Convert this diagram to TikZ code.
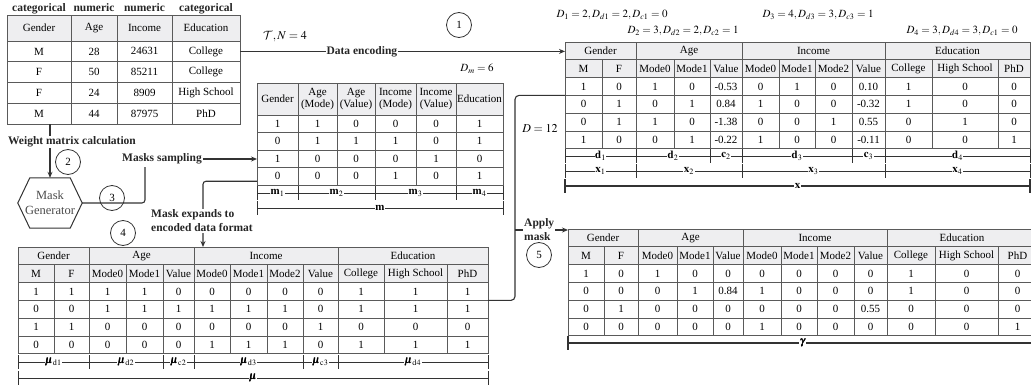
\documentclass[tikz,border=0pt]{standalone}
\usepackage{amsmath}
\usepackage{mathptmx}
\DeclareMathAlphabet{\mathcal}{OMS}{cmsy}{m}{n}
\usepackage[no-math]{fontspec}
\setmainfont{Liberation Serif}
\usepackage{tikz}
\usepackage{xcolor}
\usetikzlibrary{arrows.meta,positioning}

\definecolor{tabline}{RGB}{90,90,90}
\definecolor{headfill}{RGB}{238,238,240}
\definecolor{wirecol}{RGB}{51,51,51}

\newcommand{\rowh}{17.8}

\tikzset{
	cell/.style={draw=tabline, line width=0.8pt, inner sep=0pt, outer sep=0pt, font=\fontsize{11}{12}\selectfont},
	note/.style={font=\bfseries\fontsize{11.5}{14}\selectfont, text=black!85, inner sep=1pt},
	stepno/.style={circle, draw=wirecol, line width=0.8pt, minimum size=25pt, inner sep=0pt, font=\fontsize{11}{12}\selectfont},
	wire/.style={draw=wirecol, line width=1.1pt},
	dimrule/.style={draw=wirecol, line width=0.9pt},
	dimlabel/.style={fill=white, inner sep=0.5pt, font=\fontsize{11}{12}\selectfont},
	mathtext/.style={font=\fontsize{11}{12}\selectfont},
	>={Stealth[length=6pt, width=5pt]}
}

% encoded table: name, column edges, top, data rows
\newcommand{\codedtable}[4]{%
	\foreach \g/\ga/\gb [count=\i] in {Gender/0/2,Age/2/5,Income/5/9,Education/9/12}
	{
		\pgfmathsetmacro\xa{{#2}[\ga]}
		\pgfmathsetmacro\xb{{#2}[\gb]}
		\node[cell, fill=headfill, minimum width=\xb-\xa, minimum height=\rowh] (#1-g\i) at ({(\xa+\xb)/2},{#3+\rowh/2}) {\g};
	}
	\foreach \row [count=\r from 0] in {{M,F,Mode0,Mode1,Value,Mode0,Mode1,Mode2,Value,College,High School,PhD},#4}
	{
		\ifnum\r=0 \def\cellfill{headfill}\else\def\cellfill{white}\fi
		\foreach \v [count=\c] in \row
		{
			\pgfmathsetmacro\xa{{#2}[\c-1]}
			\pgfmathsetmacro\xb{{#2}[\c]}
			\node[cell, fill=\cellfill, minimum width=\xb-\xa, minimum height=\rowh] (#1-\r-\c) at ({(\xa+\xb)/2},{#3+\rowh*(\r+1.5)}) {\v};
		}
	}
}

% dimension line: name, from, to, y, label
\newcommand{\dimline}[5]{%
	\draw[dimrule] (#2,#4-7) -- (#2,#4+7) (#3,#4-7) -- (#3,#4+7);
	\draw[dimrule] (#2,#4) -- (#3,#4) node[dimlabel, midway] (#1) {#5};
}

\begin{document}
\begin{tikzpicture}[x=1pt,y=-1pt]
	\clip (0,0) rectangle (1031,388);

	% original data
	\foreach \h [count=\c] in {Gender,Age,Income,Education}
	{
		\pgfmathsetmacro\xa{{7,71,117,172,240}[\c-1]}
		\pgfmathsetmacro\xb{{7,71,117,172,240}[\c]}
		\node[cell, fill=headfill, minimum width=\xb-\xa, minimum height=26] (orig-0-\c) at ({(\xa+\xb)/2},28) {\h};
	}
	\foreach \row [count=\r] in {{M,28,24631,College},{F,50,85211,College},{F,24,8909,High School},{M,44,87975,PhD}}
	{
		\foreach \v [count=\c] in \row
		{
			\pgfmathsetmacro\xa{{7,71,117,172,240}[\c-1]}
			\pgfmathsetmacro\xb{{7,71,117,172,240}[\c]}
			\node[cell, minimum width=\xb-\xa, minimum height=20.8] (orig-\r-\c) at ({(\xa+\xb)/2},{30.6+20.8*\r}) {\v};
		}
	}
	\foreach \t [count=\c] in {categorical,numeric,numeric,categorical}
		\node[note, anchor=base] (type-\c) at (orig-0-\c.north |- 0,11) {\t};

	% mask table
	\foreach \h [count=\c] in {Gender,Age\\(Mode),Age\\(Value),Income\\(Mode),Income\\(Value),Education}
	{
		\pgfmathsetmacro\xa{{257,298,337,375,416,456,503}[\c-1]}
		\pgfmathsetmacro\xb{{257,298,337,375,416,456,503}[\c]}
		\node[cell, fill=headfill, align=center, minimum width=\xb-\xa, minimum height=32] (mask-0-\c) at ({(\xa+\xb)/2},99) {\h};
	}
	\foreach \row [count=\r] in {{1,1,0,0,0,1},{0,1,1,1,0,1},{1,0,0,0,1,0},{0,0,0,1,0,1}}
	{
		\foreach \v [count=\c] in \row
		{
			\pgfmathsetmacro\xa{{257,298,337,375,416,456,503}[\c-1]}
			\pgfmathsetmacro\xb{{257,298,337,375,416,456,503}[\c]}
			\node[cell, minimum width=\xb-\xa, minimum height=17.5] (mask-\r-\c) at ({(\xa+\xb)/2},{115+17.5*(\r-0.5)}) {\v};
		}
	}
	\node[mathtext] (dm) at (477,69) {$D_m = 6$};
	\foreach \n/\a/\b/\y/\t in {m1/257/298/193/\mathbf{m}_1, m2/298/375/193/\mathbf{m}_2, m3/375/456/193/\mathbf{m}_3, m4/456/503/193/\mathbf{m}_4, mall/257/503/208/\mathbf{m}}
		\dimline{\n}{\a}{\b}{\y}{$\t$};

	% encoded table
	\codedtable{enc}{565,602,636,674,710,742,779,815,852,885,932,998,1030}{42}{{1,0,1,0,-0.53,0,1,0,0.10,1,0,0},{0,1,0,1,0.84,1,0,0,-0.32,1,0,0},{0,1,1,0,-1.38,0,0,1,0.55,0,1,0},{1,0,0,1,-0.22,1,0,0,-0.11,0,0,1}}
	\foreach \n/\a/\b/\y/\t in {d1/565/636/156/\mathbf{d}_1, d2/636/710/156/\mathbf{d}_2, c2/710/742/156/\mathbf{c}_2, d3/742/852/156/\mathbf{d}_3, c3/852/885/156/\mathbf{c}_3, d4/885/1030/156/\mathbf{d}_4, x1/565/636/171/\mathbf{x}_1, x2/636/742/171/\mathbf{x}_2, x3/742/885/171/\mathbf{x}_3, x4/885/1030/171/\mathbf{x}_4}
		\dimline{\n}{\a}{\b}{\y}{$\t$};
	\begin{scope}[dimrule/.append style={line width=1.4pt}]
		\dimline{xall}{565}{1030}{186}{$\mathbf{x}$}
	\end{scope}
	\node[mathtext] (dim1) at (612,15) {$D_1 = 2, D_{d1} = 2, D_{c1} = 0$};
	\node[mathtext] (dim2) at (683,31) {$D_2 = 3, D_{d2} = 2, D_{c2} = 1$};
	\node[mathtext] (dim3) at (818,15) {$D_3 = 4, D_{d3} = 3, D_{c3} = 1$};
	\node[mathtext] (dim4) at (962,31) {$D_4 = 3, D_{d4} = 3, D_{c1} = 0$};
	\node[mathtext, font=\fontsize{12}{13}\selectfont] (dtotal) at (540,128) {$D = 12$};

	% expanded mask
	\codedtable{mu}{18,54,89,126,163,194,230,267,303,338,384,447,488}{247}{{1,1,1,1,0,0,0,0,0,1,1,1},{0,0,1,1,1,1,1,1,0,1,1,1},{1,1,0,0,0,0,0,0,1,0,0,0},{0,0,0,0,0,1,1,1,0,1,1,1}}
	\foreach \n/\a/\b/\y/\t in {mud1/18/89/362/\pmb{\mu}_{\mathrm{d1}}, mud2/89/163/362/\pmb{\mu}_{\mathrm{d2}}, muc2/163/194/362/\pmb{\mu}_{\mathrm{c2}}, mud3/194/303/362/\pmb{\mu}_{\mathrm{d3}}, muc3/303/338/362/\pmb{\mu}_{\mathrm{c3}}, mud4/338/488/362/\pmb{\mu}_{\mathrm{d4}}, muall/18/488/378/\pmb{\mu}}
		\dimline{\n}{\a}{\b}{\y}{$\t$};

	% masked data
	\codedtable{gam}{568,604,638,677,713,743,781,817,854,887,935,998,1037}{229}{{1,0,1,0,0,0,0,0,0,1,0,0},{0,0,0,1,0.84,1,0,0,0,1,0,0},{0,1,0,0,0,0,0,0,0.55,0,0,0},{0,0,0,0,0,1,0,0,0,0,0,1}}
	\begin{scope}[dimrule/.append style={line width=1.4pt}]
		\dimline{gamall}{568}{1037}{343}{$\pmb{\gamma}$}
	\end{scope}

	% mask generator
	\node[minimum width=64pt, minimum height=50pt, align=center, text=black!70, font=\fontsize{12.5}{15}\selectfont] (gen) at (50,203) {Mask\\Generator};
	\draw[wire, line width=1pt] (gen.west) -- ([xshift=12pt]gen.north west) -- ([xshift=-12pt]gen.north east) -- (gen.east) -- ([xshift=-12pt]gen.south east) -- ([xshift=12pt]gen.south west) -- cycle;

	% step 1
	\draw[wire, ->] (orig-1-4.east) -- (orig-1-4.east -| enc-g1.west) node[note, fill=white, pos=0.375] (encode) {Data encoding};
	\node[font=\fontsize{12}{13}\selectfont] (tn) at (285,37) {$\mathcal{T}, N = 4$};
	\node[stepno] (s1) at (459,25) {1};

	% step 2
	\draw[wire, ->] (gen.north |- orig-4-1.south) -- (gen.north);
	\node[note, fill=white] (weight) at (72,142) {Weight matrix calculation};
	\node[stepno] (s2) at (68,162) {2};

	% step 3
	\node[note] (sampling) at (162,159) {Masks sampling};
	\coordinate (bend3) at (145,167);
	\draw[wire, rounded corners=3pt] (gen.east) -| (bend3);
	\draw[wire, ->] (sampling.east) -- (sampling.east -| mask-3-1.west);
	\node[stepno] (s3) at (112,198) {3};

	% step 4
	\draw[wire, ->, rounded corners=3pt] ([yshift=-5pt]mask-4-1.west) -| ([xshift=9pt]mu-g3.north west);
	\node[note, fill=white, align=left, anchor=west] (expand) at (150,221) {Mask expands to\\encoded data format};
	\node[stepno] (s4) at (123,233) {4};

	% step 5
	\coordinate (tip) at (515,230);
	\draw[wire, rounded corners=4pt] (enc-1-1.south west) -| (tip) |- (mu-1-12.south east);
	\node[note, align=left, anchor=west] (apply) at (523,230) {Apply\\mask};
	\draw[wire] (tip) -- (apply.west);
	\draw[wire, ->] (apply.east) -- (apply.east -| gam-g1.west);
	\node[stepno] (s5) at (539,255) {5};
\end{tikzpicture}
\end{document}
